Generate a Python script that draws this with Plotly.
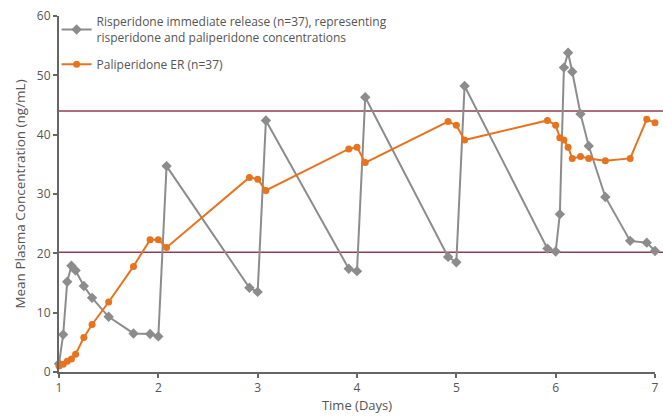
import plotly.graph_objects as go

# ---- data ----
ir_days = [1.0, 1.042, 1.083, 1.125, 1.167, 1.25, 1.333, 1.5, 1.75, 1.917, 2.0, 2.083,
           2.917, 3.0, 3.083, 3.917, 4.0, 4.083, 4.917, 5.0, 5.083,
           5.917, 6.0, 6.042, 6.083, 6.125, 6.167, 6.25, 6.333, 6.5, 6.75, 6.917, 7.0]
ir_conc = [1.4, 6.3, 15.2, 17.9, 17.1, 14.5, 12.5, 9.3, 6.5, 6.4, 6.0, 34.7,
           14.2, 13.5, 42.4, 17.4, 17.0, 46.3, 19.4, 18.5, 48.2,
           20.8, 20.3, 26.6, 51.3, 53.8, 50.6, 43.5, 38.1, 29.5, 22.1, 21.8, 20.4]

er_days = [1.0, 1.042, 1.083, 1.125, 1.167, 1.25, 1.333, 1.5, 1.75, 1.917, 2.0, 2.083,
           2.917, 3.0, 3.083, 3.917, 4.0, 4.083, 4.917, 5.0, 5.083,
           5.917, 6.0, 6.042, 6.083, 6.125, 6.167, 6.25, 6.333, 6.5, 6.75, 6.917, 7.0]
er_conc = [1.0, 1.3, 1.8, 2.2, 3.0, 5.8, 8.0, 11.8, 17.8, 22.3, 22.3, 21.0,
           32.8, 32.5, 30.6, 37.6, 37.9, 35.3, 42.2, 41.6, 39.1,
           42.4, 41.6, 39.5, 39.1, 37.9, 36.0, 36.3, 36.0, 35.6, 36.0, 42.6, 42.0]

reference_levels = [20.2, 44.0]

x_ticks = [1, 2, 3, 4, 5, 6, 7]
y_ticks = [0, 10, 20, 30, 40, 50, 60]

ir_name = "Risperidone immediate release (n=37), representing<br>risperidone and paliperidone concentrations"
er_name = "Paliperidone ER (n=37)"

GRAY = "#8c8c8c"
ORANGE = "#e8731e"
MAROON = "#8e3e52"
TEXT = "#555555"
FONT = "Open Sans"

fig = go.Figure()
fig.add_trace(go.Scatter(
    x=ir_days, y=ir_conc, name=ir_name, mode="lines+markers", legendgroup="ir",
    line=dict(color=GRAY, width=2),
    marker=dict(symbol="diamond", size=8, color=GRAY),
    cliponaxis=False,
))
fig.add_trace(go.Scatter(
    x=er_days, y=er_conc, name=er_name, mode="lines+markers", legendgroup="er",
    line=dict(color=ORANGE, width=2),
    marker=dict(symbol="circle", size=7, color=ORANGE),
    cliponaxis=False,
))

for lvl in reference_levels:
    fig.add_shape(type="line", xref="x domain", yref="y", x0=0, x1=1.014, y0=lvl, y1=lvl,
                  line=dict(color=MAROON, width=1.5), layer="below")

fig.update_layout(
    width=663, height=417,
    margin=dict(l=59, r=8, t=16, b=45, autoexpand=False),
    paper_bgcolor="white", plot_bgcolor="white",
    font=dict(family=FONT, size=12, color=TEXT),
    showlegend=True,
    legend=dict(x=-0.004, y=1.024, xanchor="left", yanchor="top",
                bgcolor="rgba(0,0,0,0)", font=dict(size=12, color=TEXT),
                traceorder="grouped", tracegroupgap=8, itemwidth=30),
)
fig.update_xaxes(
    range=[1, 7], tickvals=x_ticks, ticktext=[str(v) for v in x_ticks],
    showgrid=False, zeroline=False, showline=True, linecolor="#666666", linewidth=2,
    ticks="outside", ticklen=4, tickcolor="#666666", tickwidth=1.5,
    tickfont=dict(size=12, color=TEXT), automargin=False,
    title=dict(text="Time (Days)", font=dict(size=13, color=TEXT), standoff=3),
)
fig.update_yaxes(
    range=[0, 60], tickvals=y_ticks, ticktext=[str(v) for v in y_ticks],
    showgrid=False, zeroline=False, showline=True, linecolor="#666666", linewidth=2,
    ticks="outside", ticklen=4, tickcolor="#666666", tickwidth=1.5,
    tickfont=dict(size=12, color=TEXT), automargin=False,
    title=dict(text="Mean Plasma Concentration (ng/mL)", font=dict(size=13.5, color=TEXT), standoff=8),
)

fig.write_html("out.html", config={"displayModeBar": False},
               post_script="document.body.style.margin='0';")
